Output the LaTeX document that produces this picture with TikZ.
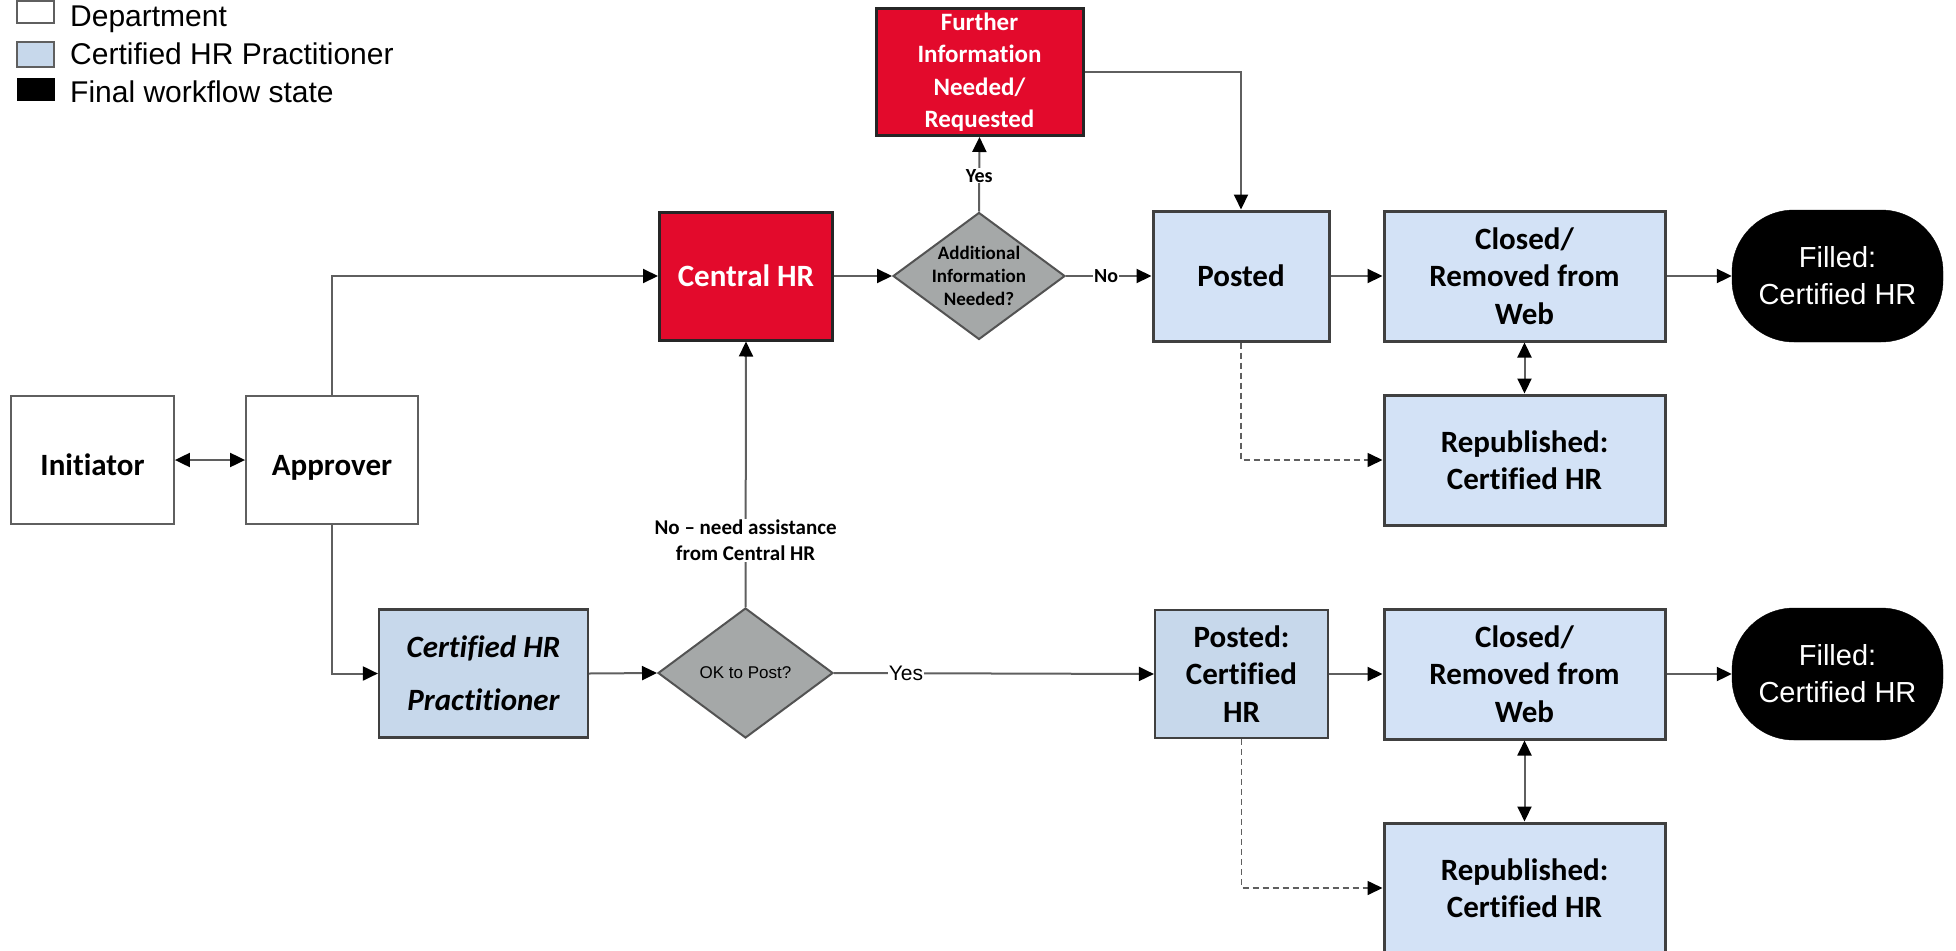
\documentclass[tikz,border=0pt]{standalone}
\usepackage{fontspec}
\setmainfont{Carlito}[Ligatures=NoCommon]
\newfontfamily\arialf{Liberation Sans}
\usetikzlibrary{shapes.geometric,arrows.meta}
\definecolor{hrred}{RGB}{227,10,44}
\definecolor{ltblue}{RGB}{211,226,246}
\definecolor{midblue}{RGB}{199,216,235}
\definecolor{dgray}{RGB}{165,168,168}
\definecolor{bordc}{RGB}{64,64,64}
\definecolor{linec}{RGB}{95,95,95}
\tikzset{
  base/.style={inner sep=0pt, align=center, font=\bfseries\fontsize{31}{37.5}\selectfont},
  deptbox/.style={base, draw=linec, line width=1.8pt, fill=white, text height=30pt, text depth=0pt},
  bluebox/.style={base, draw=bordc, line width=3pt, fill=ltblue},
  midbox/.style={base, draw=bordc, line width=2.2pt, fill=midblue},
  redbox/.style={base, draw=black!85, line width=3pt, fill=hrred, text=white},
  finalbox/.style={draw=black, fill=black, text=white, rounded corners=62pt, inner sep=0pt, align=center, font=\arialf\fontsize{29}{37}\selectfont, minimum width=211pt, minimum height=132pt},
  decision/.style={diamond, draw=bordc!90, line width=2pt, fill=dgray, inner sep=0pt},
  dtext/.style={inner sep=0pt, align=center},
  conn/.style={draw=linec, line width=2pt, -{Triangle[length=15pt,width=14pt,color=black]}},
  dconn/.style={draw=linec, line width=2pt, {Triangle[length=15pt,width=14pt,color=black]}-{Triangle[length=15pt,width=14pt,color=black]}},
  dashconn/.style={conn, line width=1.6pt, dash pattern=on 6pt off 4pt},
  lbl/.style={fill=white, inner sep=1pt, font=\bfseries\fontsize{20}{25}\selectfont, align=center},
  legtext/.style={anchor=base west, inner sep=0pt, font=\arialf\fontsize{30}{36}\selectfont},
}
\begin{document}
\begin{tikzpicture}[x=1pt,y=-1pt]
\useasboundingbox (0,0) rectangle (1956,950);

% legend
\node[draw=linec, line width=2pt, fill=white, minimum width=37pt, minimum height=22pt, inner sep=0pt] (lg1) at (35.5,12) {};
\node[draw=linec, line width=2pt, fill=midblue, minimum width=37pt, minimum height=25pt, inner sep=0pt] (lg2) at (35.5,54.5) {};
\node[draw=black, fill=black, minimum width=37pt, minimum height=22pt, inner sep=0pt] (lg3) at (35.5,89) {};
\node[legtext] (lt1) at (70,27) {Department};
\node[legtext] (lt2) at (70,65) {Certified HR Practitioner};
\node[legtext] (lt3) at (70,102) {Final workflow state};

% nodes
\node[deptbox, minimum width=163pt, minimum height=128pt] (init) at (92.5,460) {Initiator};
\node[deptbox, minimum width=172pt, minimum height=128pt] (appr) at (332,460) {Approver};
\node[redbox, minimum width=173pt, minimum height=128pt] (chr) at (746,276) {Central HR};
\node[decision, minimum width=172pt, minimum height=127pt] (addl) at (979,276) {};
\node[dtext, font=\bfseries\fontsize{19}{23}\selectfont] (addltxt) at (addl.center) {Additional\\Information\\Needed?};
\node[redbox, minimum width=207pt, minimum height=127pt, font=\bfseries\fontsize{25}{32.5}\selectfont] (further) at (979.5,72) {Further\\Information\\Needed/\\Requested};
\node[bluebox, minimum width=176pt, minimum height=130pt] (posted) at (1241,276) {Posted};
\node[bluebox, minimum width=281pt, minimum height=130pt] (closed1) at (1524.5,276) {Closed/\\Removed from\\Web};
\node[finalbox] (filled1) at (1837.5,276) {Filled:\\Certified HR};
\node[bluebox, minimum width=281pt, minimum height=130pt] (repub1) at (1524.5,460) {Republished:\\Certified HR};

\node[midbox, minimum width=209pt, minimum height=128pt, font=\bfseries\itshape\fontsize{31}{53}\selectfont] (chrp) at (483.5,673.5) {Certified HR\\Practitioner};
\node[decision, minimum width=175pt, minimum height=130pt] (ok) at (745.5,673) {};
\node[dtext, font=\arialf\fontsize{17}{21}\selectfont] (oktxt) at (ok.center) {OK to Post?};
\node[midbox, minimum width=173pt, minimum height=128pt] (postedc) at (1241.5,674) {Posted:\\Certified\\HR};
\node[bluebox, minimum width=281pt, minimum height=130pt] (closed2) at (1524.5,674) {Closed/\\Removed from\\Web};
\node[finalbox] (filled2) at (1837.5,674) {Filled:\\Certified HR};
\node[bluebox, minimum width=281pt, minimum height=130pt] (repub2) at (1524.5,888) {Republished:\\Certified HR};

% connectors
\draw[dconn] (init.east) -- (appr.west);
\draw[conn] (appr.north) |- (chr.west);
\draw[conn] (appr.south) |- (chrp.west);
\draw[conn] (chrp.east) -- (ok.west);
\draw[conn] (ok.north) -- node[lbl, pos=0.25, font=\bfseries\fontsize{21}{26}\selectfont] {No -- need assistance\\from Central HR} (chr.south);
\draw[conn] (ok.east) -- node[fill=white, inner sep=1pt, font=\arialf\fontsize{21}{25}\selectfont, pos=0.225] {Yes} (postedc.west);
\draw[conn] (chr.east) -- (addl.west);
\draw[conn] (addl.north) -- node[lbl, pos=0.48] {Yes} (further.south);
\draw[conn] (addl.east) -- node[lbl, pos=0.47] {No} (posted.west);
\draw[conn] (further.east) -| (posted.north);
\draw[conn] (posted.east) -- (closed1.west);
\draw[conn] (closed1.east) -- (filled1.west);
\draw[dconn] (closed1.south) -- (repub1.north);
\draw[dashconn] (posted.south) |- (repub1.west);
\draw[conn] (postedc.east) -- (closed2.west);
\draw[conn] (closed2.east) -- (filled2.west);
\draw[dconn] (closed2.south) -- (repub2.north);
\draw[dashconn] (postedc.south) |- (repub2.west);
\end{tikzpicture}
\end{document}
